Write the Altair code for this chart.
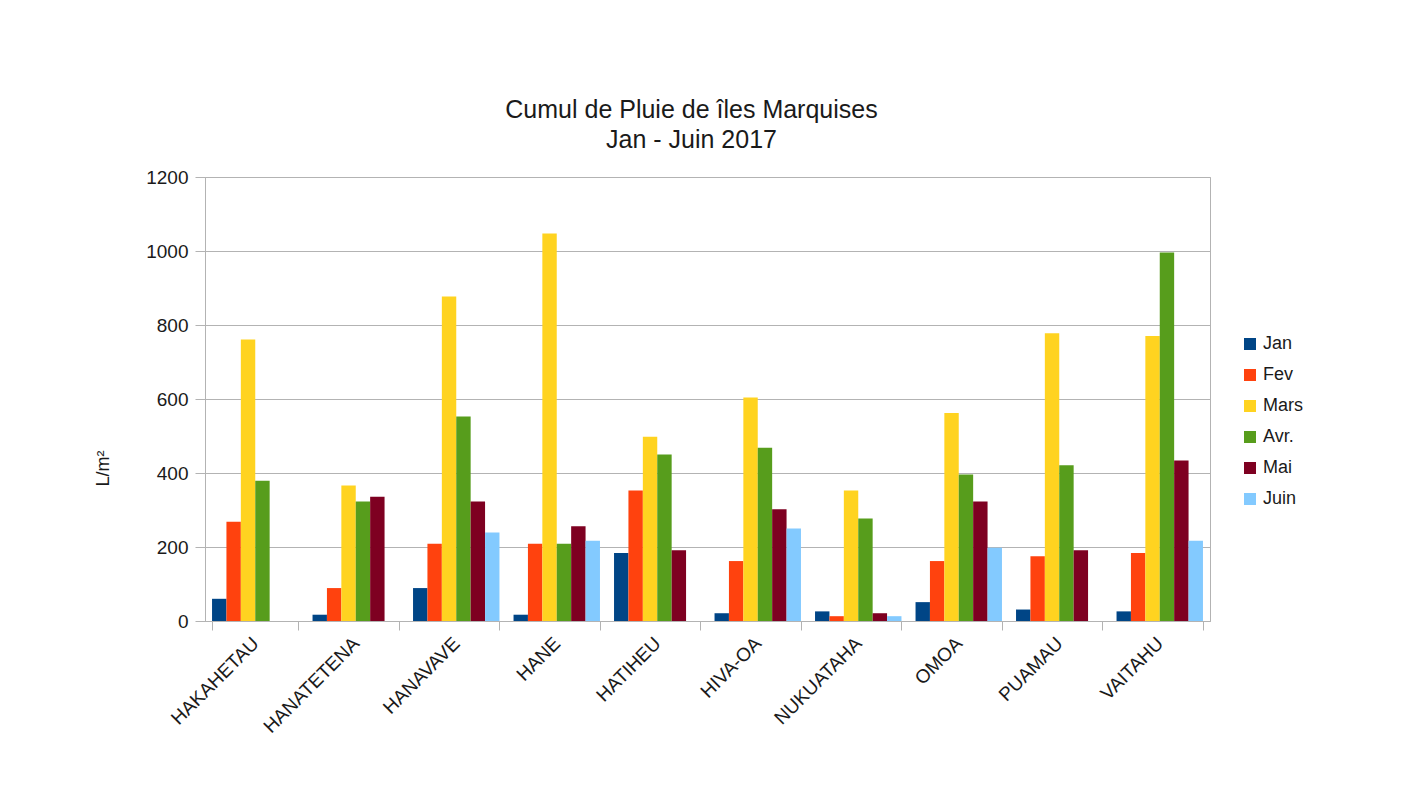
import altair as alt
import pandas as pd

stations = ["HAKAHETAU", "HANATETENA", "HANAVAVE", "HANE", "HATIHEU",
            "HIVA-OA", "NUKUATAHA", "OMOA", "PUAMAU", "VAITAHU"]
months = ["Jan", "Fev", "Mars", "Avr.", "Mai", "Juin"]
colors = ["#004586", "#ff420e", "#ffd320", "#579d1c", "#7e0021", "#83caff"]

jan  = [60, 17, 89, 17, 184, 21, 26, 51, 31, 26]
fev  = [268, 89, 209, 209, 353, 162, 13, 162, 175, 184]
mars = [761, 366, 877, 1047, 498, 604, 353, 562, 778, 770]
avr  = [379, 323, 553, 209, 450, 468, 277, 396, 421, 996]
mai  = [None, 336, 323, 256, 191, 302, 21, 323, 191, 434]
juin = [None, None, 239, 217, None, 250, 13, 198, None, 217]

series = [jan, fev, mars, avr, mai, juin]
rows = []
for m, vals in zip(months, series):
    for s, v in zip(stations, vals):
        if v is not None:
            rows.append({"station": s, "mois": m, "valeur": v})
df = pd.DataFrame(rows)

font = "Liberation Sans"
grid = "#b3b3b3"
ink = "#1a1a1a"

chart = alt.Chart(df).mark_bar().encode(
    x=alt.X("station:N", sort=stations,
            scale=alt.Scale(domain=stations, paddingInner=0.14, paddingOuter=0.07),
            axis=alt.Axis(title=None, labelAngle=-45, labelAlign="right",
                          labelBaseline="middle", labelFontSize=19, labelPadding=10,
                          tickBand="extent", tickSize=9, tickColor=grid,
                          domainColor=grid, labelColor=ink, labelFont=font)),
    xOffset=alt.XOffset("mois:N", sort=months,
                        scale=alt.Scale(domain=months, paddingInner=0, paddingOuter=0)),
    y=alt.Y("valeur:Q",
            scale=alt.Scale(domain=[0, 1200], nice=False),
            axis=alt.Axis(title="L/m²", values=[0, 200, 400, 600, 800, 1000, 1200],
                          format="d", labelFontSize=19, labelPadding=7, labelFont=font,
                          labelColor=ink, tickSize=10, tickColor=grid,
                          domainColor=grid, gridColor=grid, titleFont=font,
                          titleFontSize=18, titleFontWeight="normal",
                          titleColor=ink, titleX=-102, titleY=291,
                          titleAlign="center", titleBaseline="middle", titleAngle=-90)),
    color=alt.Color("mois:N", sort=months,
                    scale=alt.Scale(domain=months, range=colors),
                    legend=alt.Legend(title=None, orient="none", legendX=1036, legendY=158,
                                      symbolType="square", symbolSize=144,
                                      symbolStrokeWidth=0, labelFontSize=18,
                                      labelFont=font, labelColor=ink,
                                      rowPadding=13, labelOffset=4)),
).properties(
    width=1005,
    height=444,
    title=alt.TitleParams(text=["Cumul de Pluie de îles Marquises", "Jan - Juin 2017"],
                          font=font, fontSize=25, fontWeight="normal", color=ink,
                          lineHeight=30, anchor="middle", dx=-16, offset=15),
    autosize=alt.AutoSizeParams(type="none"),
    padding={"left": 197, "top": 169, "right": 190, "bottom": 150},
).configure_view(stroke=grid, strokeWidth=1)

chart.save("out.html", embed_options={"renderer": "svg", "actions": False})
